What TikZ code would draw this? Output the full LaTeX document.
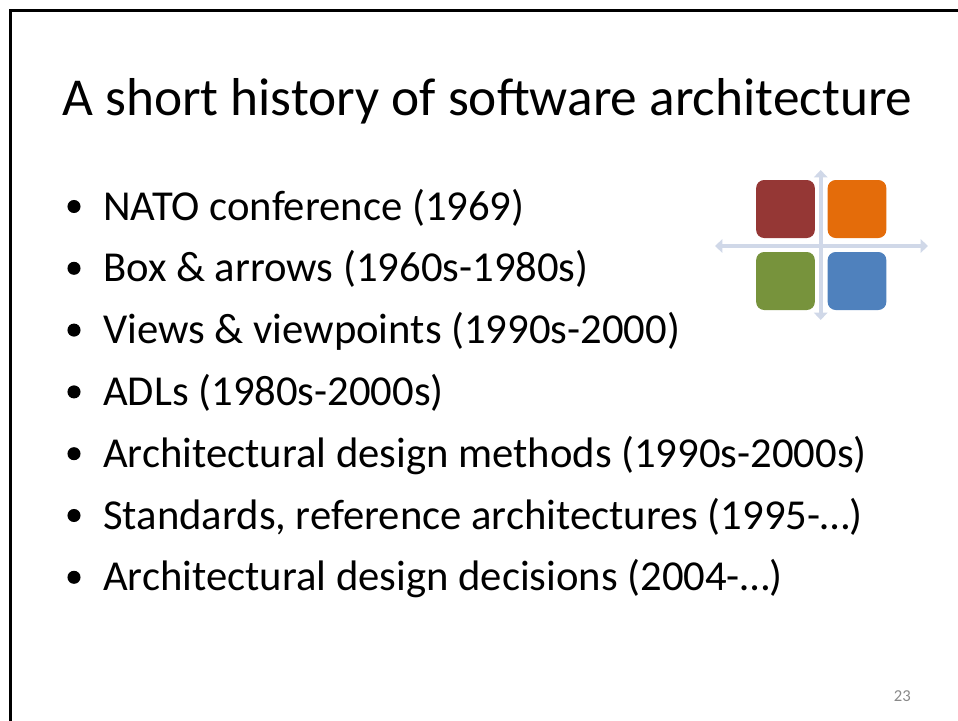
\documentclass[tikz,border=0pt]{standalone}
\usepackage{fontspec}
\setmainfont{Carlito}
\usetikzlibrary{arrows.meta}
\definecolor{qred}{HTML}{953735}
\definecolor{qorange}{HTML}{E46C0A}
\definecolor{qgreen}{HTML}{77933C}
\definecolor{qblue}{HTML}{4F81BD}
\definecolor{axisc}{HTML}{D0D8E8}
\definecolor{pagenum}{HTML}{898989}
\tikzset{
  title/.style={anchor=base west, inner sep=0pt, font=\fontsize{40}{46}\selectfont},
  item/.style={anchor=base west, inner sep=0pt, font=\fontsize{32}{37}\selectfont},
  bulletdot/.style={circle, fill=black, inner sep=0pt, minimum size=9.8pt},
  quad/.style={rounded corners=6pt, inner sep=0pt, minimum width=44pt, minimum height=43.5pt},
  axis/.style={draw=axisc, line width=3pt, {Triangle[length=5.5pt,width=10pt]}-{Triangle[length=5.5pt,width=10pt]}},
}
\begin{document}
\begin{tikzpicture}[x=0.75pt, y=-0.75pt]
  \useasboundingbox (0,0) rectangle (958,721);
  % slide frame (left and top edges)
  \draw[line width=2.25pt, line cap=rect] (10.5,721) -- (10.5,10.5) -- (960,10.5);

  % title
  \node[title] (t) at (62,115) {A short history of software architecture};

  % bullet list
  \foreach \i/\y/\txt in {
      1/220/{NATO conference (1969)},
      2/281.8/{Box \& arrows (1960s-1980s)},
      3/343.6/{Views \& viewpoints (1990s-2000)},
      4/405.4/{ADLs (1980s-2000s)},
      5/467.2/{Architectural design methods (1990s-2000s)},
      6/529/{Standards, reference architectures (1995-…)},
      7/590.8/{Architectural design decisions (2004-…)}} {
    \node[bulletdot] (d\i) at (74,\y-13.5) {};
    \node[item] (i\i) at (103,\y) {\txt};
  }

  % quadrant icon: axes
  \coordinate (vt) at (820.7,170);
  \coordinate (vb) at (820.7,320);
  \coordinate (hl) at (715,246);
  \coordinate (hr) at (928,246);
  \draw[axis] (vb) -- (vt);
  \draw[axis] (hl) -- (hr);
  % quadrant icon: tiles
  \node[quad, fill=qred]    (q1) at (785.5,209) {};
  \node[quad, fill=qorange] (q2) at (857,209) {};
  \node[quad, fill=qgreen]  (q3) at (785.5,281) {};
  \node[quad, fill=qblue]   (q4) at (857,281) {};

  % page number
  \node[anchor=base east, inner sep=0pt, text=pagenum, font=\fontsize{12.5}{14}\selectfont] (pn) at (911,701) {23};
\end{tikzpicture}
\end{document}
